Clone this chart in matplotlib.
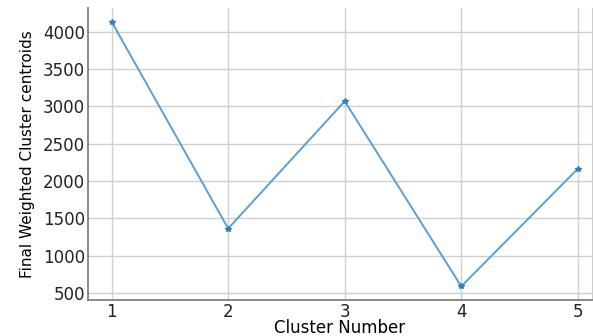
import matplotlib.pyplot as plt

# Cluster centroid values
clusters = [1, 2, 3, 4, 5]
centroids = [4131, 1365, 3069, 591, 2165]
yticks = [500, 1000, 1500, 2000, 2500, 3000, 3500, 4000]

fig = plt.figure(figsize=(5.93, 3.36), dpi=100)
ax = fig.add_axes([0.148, 0.107, 0.85, 0.869])

ax.plot(clusters, centroids, color='#5a9fd4', lw=1.4, marker='*', ms=4,
        mfc='#2f7fc0', mec='#2f7fc0')

ax.set_xlim(0.795, 5.12)
ax.set_ylim(408, 4315)
ax.set_xticks(clusters)
ax.set_yticks(yticks)
ax.tick_params(labelsize=12, colors='#222222', length=0, pad=2)
ax.grid(True, color='#d0d0d0', lw=1)
ax.set_axisbelow(True)

for s in ['left', 'bottom']:
    ax.spines[s].set_color('#777777')
    ax.spines[s].set_linewidth(1.2)
ax.spines['top'].set_visible(False)
ax.spines['right'].set_color('#cccccc')

ax.set_xlabel('Cluster Number', fontsize=12, labelpad=-1)
ax.set_ylabel('Final Weighted Cluster centroids', fontsize=11,
              family=['Liberation Sans Narrow', 'DejaVu Sans'], labelpad=6)

fig.savefig('out.png', dpi=100)
